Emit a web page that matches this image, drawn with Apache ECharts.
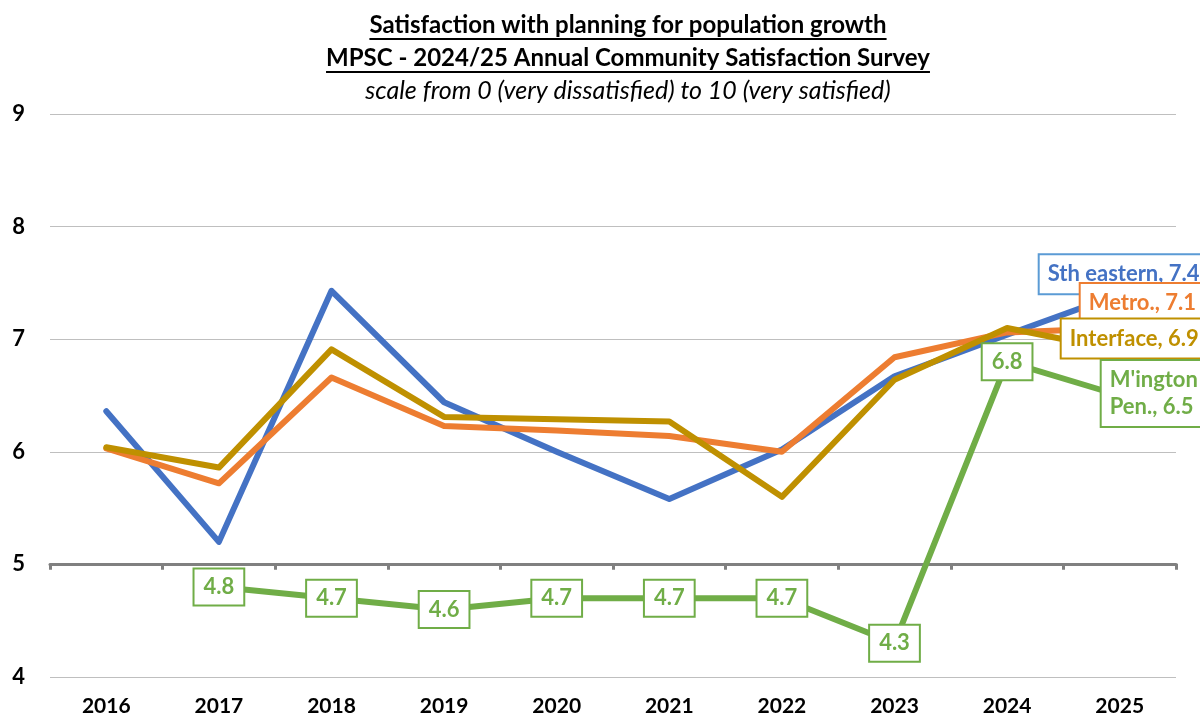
<!DOCTYPE html>
<html>
<head>
<meta charset="utf-8">
<script src="https://cdn.jsdelivr.net/npm/echarts@6/dist/echarts.min.js"></script>
<style>
  html, body { margin: 0; padding: 0; background: #ffffff; }
  #chart { width: 1200px; height: 717px; }
</style>
</head>
<body>
<div id="chart"></div>
<script>
// Survey years (category axis)
const years = ['2016', '2017', '2018', '2019', '2020', '2021', '2022', '2023', '2024', '2025'];

// Mean satisfaction scores (0-10 scale) by comparison group
const sthEastern = [6.36, 5.2, 7.43, 6.44, 6.0, 5.58, 6.02, 6.67, 7.04, 7.4];
const metro      = [6.03, 5.72, 6.66, 6.23, 6.19, 6.14, 6.0, 6.84, 7.06, 7.1];
const interfaceCouncils = [6.04, 5.86, 6.91, 6.31, 6.29, 6.27, 5.6, 6.64, 7.1, 6.9];
const mornington = [null, 4.8, 4.7, 4.6, 4.7, 4.7, 4.7, 4.3, 6.8, 6.5];

// Value axis range and the level where the category axis crosses
const yMin = 4;
const yMax = 9;
const yInterval = 1;
const axisCross = 5;

const titleLines = [
  'Satisfaction with planning for population growth',
  'MPSC - 2024/25 Annual Community Satisfaction Survey',
  'scale from 0 (very dissatisfied) to 10 (very satisfied)'
];

const FONT = 'Lato, "Open Sans", sans-serif';
const COLORS = {
  blue: '#4472C4',
  blueBorder: '#5B9BD5',
  orange: '#ED7D31',
  gold: '#BF9000',
  green: '#70AD47'
};

const GRID = { left: 50, right: 24, top: 114, bottom: 37 };
const CHART_W = 1200, CHART_H = 717;
const gridHeight = CHART_H - GRID.top - GRID.bottom;
const crossOffset = gridHeight * (axisCross - yMin) / (yMax - yMin);

// Title layout
const titleCx = 628;
const titleY = [25, 58, 91];
const titleFonts = [
  'bold 24px ' + FONT,
  'bold 24px ' + FONT,
  'italic 25px ' + FONT
];
const measureCtx = document.createElement('canvas').getContext('2d');
function textWidth(text, font) {
  measureCtx.font = font;
  return measureCtx.measureText(text).width;
}

const graphics = [];
titleLines.forEach((t, i) => {
  graphics.push({
    type: 'text',
    x: titleCx,
    y: titleY[i],
    style: {
      text: t,
      font: titleFonts[i],
      fill: '#000000',
      textAlign: 'center',
      textVerticalAlign: 'middle'
    }
  });
  if (i < 2) {
    const w = textWidth(t, titleFonts[i]);
    graphics.push({
      type: 'line',
      shape: { x1: titleCx - w / 2, y1: titleY[i] + 14, x2: titleCx + w / 2, y2: titleY[i] + 14 },
      style: { stroke: '#000000', lineWidth: 1.8 }
    });
  }
});

function lineSeries(name, data, color) {
  return {
    name: name,
    type: 'line',
    data: data,
    symbol: 'none',
    z: 2,
    lineStyle: { color: color, width: 6, cap: 'round', join: 'round' },
    itemStyle: { color: color },
    emphasis: { disabled: true },
    silent: true
  };
}

const last = years.length - 1;
const baseLabel = {
  show: true,
  opacity: 1,
  fontFamily: FONT,
  fontWeight: 'bold',
  fontSize: 22,
  backgroundColor: '#ffffff',
  borderWidth: 2
};
const hiddenDot = { color: '#ffffff', opacity: 1, borderWidth: 0 };

// Value callout at the final year, placed beside the line end
function endLabelSeries(data, textColor, borderColor, offset, text) {
  return {
    type: 'scatter',
    z: 10,
    symbolSize: 1,
    itemStyle: hiddenDot,
    emphasis: { disabled: true },
    silent: true,
    data: [[years[last], data[last]]],
    label: Object.assign({}, baseLabel, {
      position: 'inside',
      align: 'left',
      verticalAlign: 'middle',
      offset: offset,
      color: textColor,
      borderColor: borderColor,
      padding: [6, 10, 5, 8],
      lineHeight: 27,
      formatter: () => text
    })
  };
}

// Value boxes along the Mornington Peninsula line (all years but the last)
const mornLabels = mornington
  .map((v, i) => (v === null || i === last) ? null : [years[i], v])
  .filter(d => d !== null);

const option = {
  animation: false,
  backgroundColor: '#ffffff',
  grid: { left: GRID.left, right: GRID.right, top: GRID.top, bottom: GRID.bottom, containLabel: false },
  xAxis: [
    {
      type: 'category',
      data: years,
      boundaryGap: true,
      axisLine: { show: false },
      axisTick: { show: false },
      splitLine: { show: false },
      axisLabel: {
        color: '#000000',
        fontFamily: FONT,
        fontWeight: 'bold',
        fontSize: 21,
        margin: 19
      }
    },
    {
      type: 'category',
      data: years,
      boundaryGap: true,
      position: 'bottom',
      offset: -crossOffset,
      axisLine: { show: true, lineStyle: { color: '#808080', width: 3 } },
      axisTick: { show: true, length: 6, lineStyle: { color: '#808080', width: 3 } },
      axisLabel: { show: false },
      splitLine: { show: false }
    }
  ],
  yAxis: {
    type: 'value',
    min: yMin,
    max: yMax,
    interval: yInterval,
    axisLine: { show: false },
    axisTick: { show: false },
    splitLine: { show: true, lineStyle: { color: '#BFBFBF', width: 1.2 } },
    axisLabel: {
      color: '#000000',
      fontFamily: FONT,
      fontWeight: 'bold',
      fontSize: 22,
      margin: 25
    }
  },
  graphic: graphics,
  series: [
    lineSeries('Sth eastern', sthEastern, COLORS.blue),
    lineSeries('Metro.', metro, COLORS.orange),
    lineSeries('Interface', interfaceCouncils, COLORS.gold),
    lineSeries("M'ington Pen.", mornington, COLORS.green),
    {
      type: 'scatter',
      z: 10,
      symbolSize: 1,
      itemStyle: hiddenDot,
      emphasis: { disabled: true },
      silent: true,
      data: mornLabels,
      label: Object.assign({}, baseLabel, {
        position: 'inside',
        align: 'center',
        verticalAlign: 'middle',
        color: COLORS.green,
        borderColor: COLORS.green,
        padding: [7, 9, 6, 9],
        formatter: p => p.value[1].toFixed(1)
      })
    },
    endLabelSeries(sthEastern, COLORS.blue, COLORS.blueBorder, [-80, -20],
      'Sth eastern, ' + sthEastern[last].toFixed(1)),
    endLabelSeries(metro, COLORS.orange, COLORS.orange, [-39, -25],
      'Metro., ' + metro[last].toFixed(1)),
    endLabelSeries(interfaceCouncils, COLORS.gold, COLORS.gold, [-58, -12],
      'Interface, ' + interfaceCouncils[last].toFixed(1)),
    endLabelSeries(mornington, COLORS.green, COLORS.green, [-18, -2],
      "M'ington\nPen., " + mornington[last].toFixed(1))
  ]
};

const chart = echarts.init(document.getElementById('chart'), null, { renderer: 'canvas' });
chart.setOption(option);
</script>
</body>
</html>
